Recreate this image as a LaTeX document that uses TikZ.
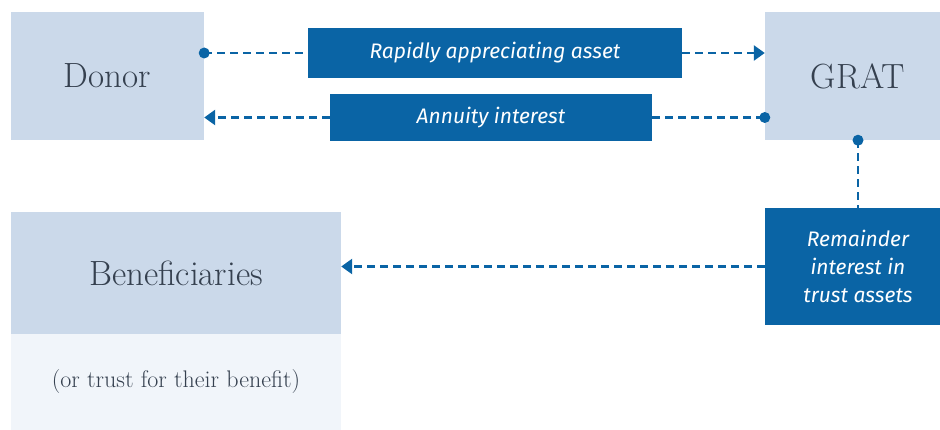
\documentclass[tikz,border=0pt]{standalone}
\usepackage{fontspec}
\newfontfamily\labelfont{Fira Sans}
\usetikzlibrary{arrows.meta}
\definecolor{boxblue}{HTML}{CBD9EA}
\definecolor{paleblue}{HTML}{F1F5FA}
\definecolor{darkblue}{HTML}{0A64A5}
\definecolor{inkgrey}{HTML}{35404F}
\tikzset{
  party/.style={fill=boxblue, text=inkgrey, inner sep=0pt, font=\fontsize{35}{40}\selectfont},
  flowlabel/.style={fill=darkblue, text=white, inner sep=0pt, align=center,
    font=\labelfont\itshape\fontsize{21}{28}\selectfont},
  flow/.style={darkblue, line width=2.6pt, dash pattern=on 8pt off 5pt},
  tip/.style={-{Triangle[length=11pt,width=15pt]}},
}
\begin{document}
\begin{tikzpicture}[x=1pt,y=-1pt]
            \useasboundingbox (0,0) rectangle (940,430);
            % the three parties
            \node[party, minimum width=193pt, minimum height=128pt] (donor) at (107.5,76) {Donor};
            \node[party, minimum width=186pt, minimum height=128pt] (grat) at (858,76) {GRAT};
            \node[party, minimum width=330pt, minimum height=122pt] (benef) at (176,273) {Beneficiaries};
            \node[fill=paleblue, text=inkgrey, inner sep=0pt, minimum width=330pt, minimum height=96pt,
                  font=\fontsize{24}{28}\selectfont] (benefnote) at (176,382) {(or trust for their benefit)};
            % labels on the transfers
            \node[flowlabel, minimum width=374pt, minimum height=50pt] (asset) at (495,53) {Rapidly appreciating asset};
            \node[flowlabel, minimum width=322pt, minimum height=47pt] (annuity) at (491,117.5) {Annuity interest};
            \node[flowlabel, minimum width=186pt, minimum height=117pt] (remainder) at (858,266.5) {Remainder\\interest in\\trust assets};
            % donor -> GRAT
            \draw[flow] (donor.east |- asset.west) -- (asset.west);
            \fill[darkblue] (donor.east |- asset.west) circle (5.5pt);
            \draw[flow, tip] (asset.east) -- (grat.west |- asset.east);
            % GRAT -> donor
            \draw[flow, tip] (annuity.west) -- (donor.east |- annuity.west);
            \draw[flow] (annuity.east) -- (grat.west |- annuity.east);
            \fill[darkblue] (grat.west |- annuity.east) circle (5.5pt);
            % GRAT -> beneficiaries
            \draw[flow] (grat.south) -- (remainder.north);
            \fill[darkblue] (grat.south) circle (5.5pt);
            \draw[flow, tip] (remainder.west) -- (benef.east |- remainder.west);
\end{tikzpicture}
\end{document}
